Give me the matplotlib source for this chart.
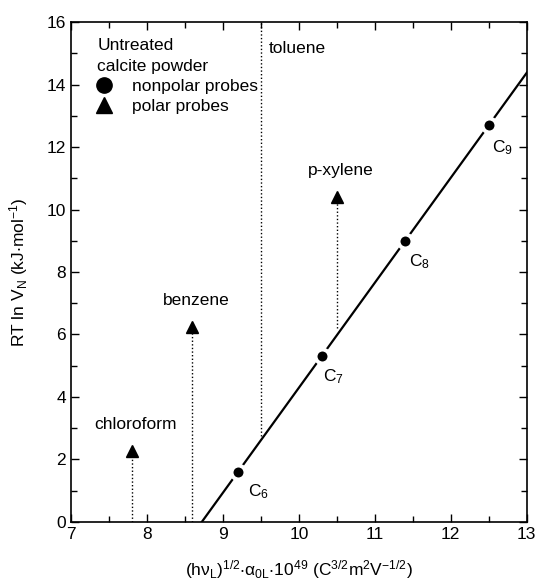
import matplotlib
matplotlib.use('Agg')
import matplotlib.pyplot as plt
from matplotlib.lines import Line2D
import numpy as np

plt.rcParams['font.family'] = ['Liberation Sans', 'DejaVu Sans']
plt.rcParams['mathtext.fontset'] = 'custom'
plt.rcParams['mathtext.rm'] = 'Liberation Sans'
plt.rcParams['mathtext.it'] = 'Liberation Sans:italic'
plt.rcParams['mathtext.default'] = 'regular'

# n-alkanes on untreated calcite
alkane_names = ['C$_6$', 'C$_7$', 'C$_8$', 'C$_9$']
alkane_x = [9.2, 10.3, 11.4, 12.5]
alkane_y = [1.6, 5.3, 9.0, 12.7]
alkane_label_offsets = [(7, -14), (1, -15), (3, -15), (2, -16)]

# polar probes: x position, marker height, lower end of the dotted drop line
polar_names = ['chloroform', 'benzene', 'p-xylene']
polar_x = [7.8, 8.6, 10.5]
polar_y = [2.27, 6.24, 10.4]
polar_base = [0.0, 0.0, 6.2]

# toluene only shown as a dotted guide
toluene_x = 9.5
toluene_base = 2.75

FS = 12.5

fig = plt.figure(figsize=(5.37, 5.83), dpi=100)
ax = fig.add_axes([0.132, 0.105, 0.849, 0.857])

# reference line fitted through the alkanes
slope, intercept = np.polyfit(alkane_x, alkane_y, 1)
xs = np.array([7.0, 13.0])
ax.plot(xs, slope * xs + intercept, color='black', lw=1.6, zorder=2)

ax.plot(alkane_x, alkane_y, 'o', color='black', ms=10, mec='white', mew=2.8,
        zorder=3)
for name, x, y, off in zip(alkane_names, alkane_x, alkane_y, alkane_label_offsets):
    ax.annotate(name, (x, y), xytext=off, textcoords='offset points',
                ha='left', va='center', fontsize=FS)

for name, x, y, base in zip(polar_names, polar_x, polar_y, polar_base):
    ax.plot([x, x], [base, y], color='black', lw=1, ls=(0, (1, 1.6)), zorder=1)
    ax.annotate(name, (x, y), xytext=(3, 19), textcoords='offset points',
                ha='center', va='center', fontsize=FS)
ax.plot(polar_x, polar_y, '^', color='black', ms=8, zorder=3)

ax.plot([toluene_x, toluene_x], [toluene_base, 16], color='black', lw=1,
        ls=(0, (1, 1.6)), zorder=1)
ax.annotate('toluene', (toluene_x, 16), xytext=(6, -19), textcoords='offset points',
            ha='left', va='center', fontsize=FS)

handles = [Line2D([], [], ls='none', marker='o', color='black', ms=11),
           Line2D([], [], ls='none', marker='^', color='black', ms=12)]
leg = ax.legend(handles, ['nonpolar probes', 'polar probes'],
                title='Untreated\ncalcite powder', loc='upper left',
                bbox_to_anchor=(0.058, 0.968), frameon=False, fontsize=FS,
                title_fontsize=FS, handlelength=0.8, handletextpad=1.2,
                labelspacing=0.3, alignment='left', borderaxespad=0.0,
                borderpad=0.0)
leg.get_title().set_linespacing(1.45)

ax.set_xlim(7, 13)
ax.set_ylim(0, 16)
ax.set_xticks(np.arange(7, 13.1, 1))
ax.set_xticks(np.arange(7.5, 13, 1), minor=True)
ax.set_yticks(np.arange(0, 16.1, 2))
ax.set_yticks(np.arange(1, 16, 2), minor=True)
ax.tick_params(which='both', direction='in', top=True, right=True, labelsize=FS,
               width=1)
ax.tick_params(which='major', length=6)
ax.tick_params(which='minor', length=4)
for sp in ax.spines.values():
    sp.set_linewidth(1.2)

ax.set_xlabel('(h$\\nu_L$)$^{1/2}$$\\cdot\\alpha_{0L}$$\\cdot$10$^{49}$ (C$^{3/2}$m$^2$V$^{-1/2}$)',
              fontsize=FS, labelpad=12)
ax.set_ylabel('RT ln V$_N$ (kJ$\\cdot$mol$^{-1}$)', fontsize=FS, labelpad=12)

fig.savefig('out.png', dpi=100)
